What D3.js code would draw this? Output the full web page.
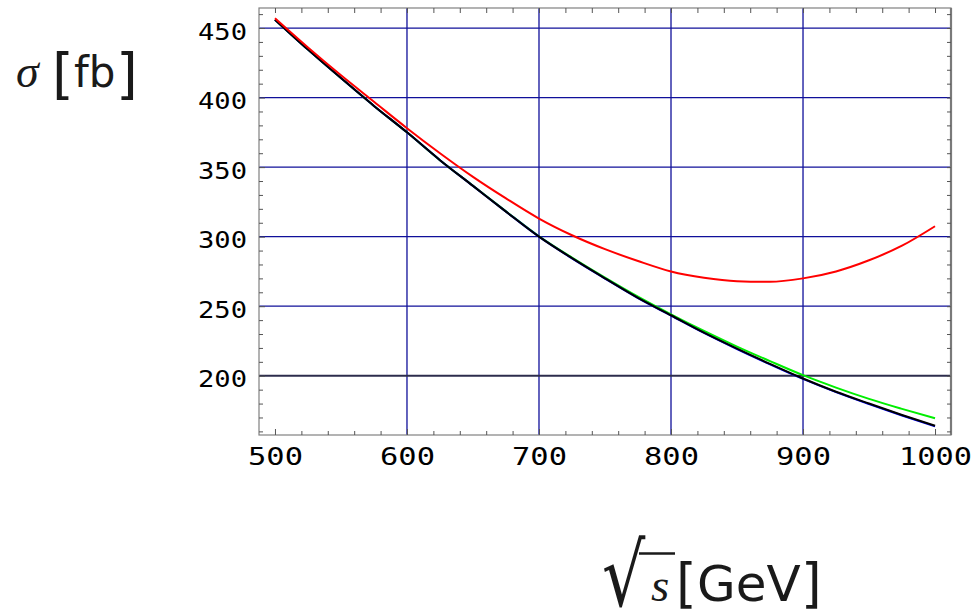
<!DOCTYPE html>
<html>
<head>
<meta charset="utf-8">
<script src="https://cdn.jsdelivr.net/npm/d3@7"></script>
<style>
  body { margin: 0; background: #fff; }
  svg { display: block; }
</style>
</head>
<body>
<svg id="chart" width="980" height="616"></svg>
<script>
// Centre-of-mass energy sqrt(s) in GeV
const energies = [500, 525, 550, 575, 600, 625, 650, 675, 700, 725, 750,
                  775, 800, 825, 850, 875, 900, 925, 950, 975, 1000];

// Cross sections in fb
const sigmaRed   = [457, 436, 416, 397, 378, 360, 343, 327.5, 313, 301, 291,
                    282.5, 275, 270.5, 268, 267.5, 270, 275, 283, 293.5, 307.5];
const sigmaGreen = [456, 434.5, 414, 394, 375, 355, 336.6, 318.2, 300.3, 285, 270.6,
                    256.9, 244.2, 232.2, 221, 210.5, 200.4, 191.5, 183.4, 176.2, 169.4];
const sigmaBlue  = [456, 434.5, 414, 394, 375, 355, 336.5, 318, 300, 284.4, 269.9,
                    255.8, 243.3, 230.8, 219.2, 208.2, 197.7, 188.2, 179.6, 171.4, 163.6];
const sigmaBlack = [456, 434.5, 414, 394, 375, 355, 336.5, 318, 300, 284.5, 270,
                    256, 243.5, 231, 219.5, 208.5, 198, 188.5, 180, 171.8, 164];

// Axis ticks and grid
const xMajorTicks = [500, 600, 700, 800, 900, 1000];
const yMajorTicks = [200, 250, 300, 350, 400, 450];
const xGridValues = [600, 700, 800, 900];
const yGridValues = [250, 300, 350, 400, 450];
const yDarkGrid = 200;

const svg = d3.select("#chart");
const plotLeft = 259, plotRight = 951, plotTop = 8, plotBottom = 435;

const x = d3.scaleLinear().domain([487.9, 1012.1]).range([plotLeft, plotRight]);
const y = d3.scaleLinear().domain([157.4, 464.4]).range([plotBottom, plotTop]);

// Grid lines
const grid = svg.append("g");
grid.selectAll("line.gx").data(xGridValues).join("line")
  .attr("class", "gx")
  .attr("x1", d => x(d)).attr("x2", d => x(d))
  .attr("y1", plotTop).attr("y2", plotBottom)
  .attr("stroke", "#10109a").attr("stroke-width", 1.3);
grid.selectAll("line.gy").data(yGridValues).join("line")
  .attr("class", "gy")
  .attr("x1", plotLeft).attr("x2", plotRight)
  .attr("y1", d => y(d)).attr("y2", d => y(d))
  .attr("stroke", "#10109a").attr("stroke-width", 1.3);
grid.append("line")
  .attr("x1", plotLeft).attr("x2", plotRight)
  .attr("y1", y(yDarkGrid)).attr("y2", y(yDarkGrid))
  .attr("stroke", "#2c2c4c").attr("stroke-width", 2.2);

// Frame
svg.append("rect")
  .attr("x", plotLeft).attr("y", plotTop)
  .attr("width", plotRight - plotLeft).attr("height", plotBottom - plotTop)
  .attr("fill", "none").attr("stroke", "#808080").attr("stroke-width", 1.2);
svg.append("line")
  .attr("x1", plotRight).attr("x2", plotRight).attr("y1", plotTop).attr("y2", plotBottom)
  .attr("stroke", "#7a7a7a").attr("stroke-width", 2.2);

// Ticks on all four sides, pointing inward
const xMinor = d3.range(500, 1001, 20).filter(v => v % 100 !== 0);
const yMinor = d3.range(160, 461, 10).filter(v => v % 50 !== 0);

function styleAxis(g) {
  g.select(".domain").remove();
  g.selectAll(".tick line").attr("stroke", "#555").attr("stroke-width", 1);
}

svg.append("g").attr("transform", `translate(0,${plotBottom})`)
  .call(d3.axisBottom(x).tickValues(xMinor).tickSize(-4).tickFormat(""))
  .call(styleAxis);
svg.append("g").attr("transform", `translate(0,${plotTop})`)
  .call(d3.axisTop(x).tickValues(xMinor.concat(xMajorTicks)).tickSize(-5).tickFormat(""))
  .call(styleAxis);
svg.append("g").attr("transform", `translate(${plotLeft},0)`)
  .call(d3.axisLeft(y).tickValues(yMinor).tickSize(-4).tickFormat(""))
  .call(styleAxis);
svg.append("g").attr("transform", `translate(${plotRight},0)`)
  .call(d3.axisRight(y).tickValues(yMinor.concat(yMajorTicks)).tickSize(-4).tickFormat(""))
  .call(styleAxis);

// Major ticks with labels
const xAxis = svg.append("g").attr("transform", `translate(0,${plotBottom})`)
  .call(d3.axisBottom(x).tickValues(xMajorTicks).tickSize(-6).tickPadding(0).tickFormat(d3.format("d")))
  .call(styleAxis);
xAxis.selectAll(".tick text")
  .attr("y", 30).attr("dy", null)
  .attr("font-family", "'DejaVu Sans Mono', monospace")
  .attr("font-size", 25)
  .attr("fill", "#000")
  .attr("textLength", d => String(d).length === 4 ? 73 : 55)
  .attr("lengthAdjust", "spacingAndGlyphs");

const yAxis = svg.append("g").attr("transform", `translate(${plotLeft},0)`)
  .call(d3.axisLeft(y).tickValues(yMajorTicks).tickSize(-6).tickPadding(0).tickFormat(d3.format("d")))
  .call(styleAxis);
yAxis.selectAll(".tick text")
  .attr("x", -12).attr("dy", null).attr("y", 11)
  .attr("text-anchor", "end")
  .attr("font-family", "'DejaVu Sans Mono', monospace")
  .attr("font-size", 23.5)
  .attr("fill", "#000")
  .attr("textLength", 49)
  .attr("lengthAdjust", "spacingAndGlyphs");

// Curves
const series = [
  { values: sigmaGreen, color: "#00ee00" },
  { values: sigmaBlue,  color: "#0000ff" },
  { values: sigmaBlack, color: "#000000" },
  { values: sigmaRed,   color: "#ff0000" }
];
const line = d3.line()
  .x(d => x(d[0])).y(d => y(d[1]))
  .curve(d3.curveMonotoneX);
svg.append("g").selectAll("path").data(series).join("path")
  .attr("d", s => line(energies.map((e, i) => [e, s.values[i]])))
  .attr("fill", "none")
  .attr("stroke", s => s.color)
  .attr("stroke-width", 2)
  .attr("stroke-linejoin", "round");

// Axis titles
const sans = "'DejaVu Sans', sans-serif";
const serif = "'Liberation Serif', serif";

const yTitle = svg.append("text").attr("fill", "#1a1a1a").attr("y", 87);
yTitle.append("tspan").attr("x", 16)
  .attr("font-family", serif).attr("font-style", "italic").attr("font-size", 46).text("σ");
yTitle.append("tspan").attr("x", 52).attr("dy", 6)
  .attr("font-family", sans).attr("font-size", 56).text("[");
yTitle.append("tspan").attr("x", 74).attr("dy", -6)
  .attr("font-family", sans).attr("font-size", 42).text("fb");
yTitle.append("tspan").attr("x", 116).attr("dy", 6)
  .attr("font-family", sans).attr("font-size", 56).text("]");

// Radical sign, stretched to span the argument, with its overbar
svg.append("text").attr("fill", "#1a1a1a")
  .attr("transform", "translate(602,606) scale(1,1.28)")
  .attr("font-family", sans).attr("font-size", 68).text("√");
svg.append("line").attr("x1", 639).attr("x2", 675).attr("y1", 553.5).attr("y2", 553.5)
  .attr("stroke", "#1a1a1a").attr("stroke-width", 2.5);

const xTitle = svg.append("text").attr("fill", "#1a1a1a").attr("y", 601);
xTitle.append("tspan").attr("x", 651)
  .attr("font-family", serif).attr("font-style", "italic").attr("font-size", 47).text("s");
xTitle.append("tspan").attr("x", 676).attr("dy", 1)
  .attr("font-family", sans).attr("font-size", 53).text("[");
xTitle.append("tspan").attr("x", 697).attr("dy", -1)
  .attr("font-family", sans).attr("font-size", 50).text("GeV");
xTitle.append("tspan").attr("x", 801).attr("dy", 1)
  .attr("font-family", sans).attr("font-size", 53).text("]");
</script>
</body>
</html>
